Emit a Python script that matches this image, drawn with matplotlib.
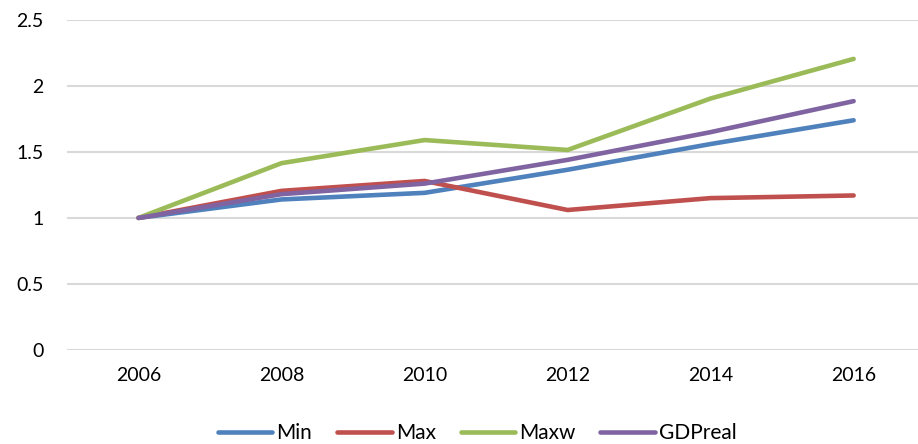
import matplotlib.pyplot as plt

years = ["2006", "2008", "2010", "2012", "2014", "2016"]
min_vals = [1.0, 1.14, 1.19, 1.365, 1.56, 1.74]
max_vals = [1.0, 1.205, 1.28, 1.06, 1.15, 1.17]
maxw_vals = [1.0, 1.415, 1.59, 1.515, 1.905, 2.205]
gdp_vals = [1.0, 1.18, 1.26, 1.44, 1.65, 1.885]

plt.rcParams['font.family'] = ['Lato', 'DejaVu Sans']

fig = plt.figure(figsize=(9.18, 4.44), dpi=100)
ax = fig.add_axes([0.073, 0.212, 0.927, 0.743])

x = list(range(len(years)))
ax.plot(x, min_vals, color="#4F81BD", lw=3.3, label="Min", solid_capstyle="round")
ax.plot(x, max_vals, color="#C0504D", lw=3.3, label="Max", solid_capstyle="round")
ax.plot(x, maxw_vals, color="#9BBB59", lw=3.3, label="Maxw", solid_capstyle="round")
ax.plot(x, gdp_vals, color="#8064A2", lw=3.3, label="GDPreal", solid_capstyle="round")

ax.set_ylim(0, 2.5)
ax.set_xlim(-0.5, 5.45)
ax.set_yticks([0, 0.5, 1, 1.5, 2, 2.5])
ax.set_yticklabels(["0", "0.5", "1", "1.5", "2", "2.5"])
ax.set_xticks(x)
ax.set_xticklabels(years)
ax.grid(axis="y", color="#D9D9D9", lw=1.5)
ax.set_axisbelow(True)
for s in ax.spines.values():
    s.set_visible(False)
ax.tick_params(length=0, labelsize=14, colors="#000000")
ax.tick_params(axis="y", pad=17)
ax.tick_params(axis="x", pad=12)

fig.legend(loc="center", bbox_to_anchor=(0.52, 0.025), ncol=4, frameon=False,
           fontsize=15, handlelength=2.6, handletextpad=0.2, columnspacing=1.2)

fig.savefig("out.png", dpi=100)
